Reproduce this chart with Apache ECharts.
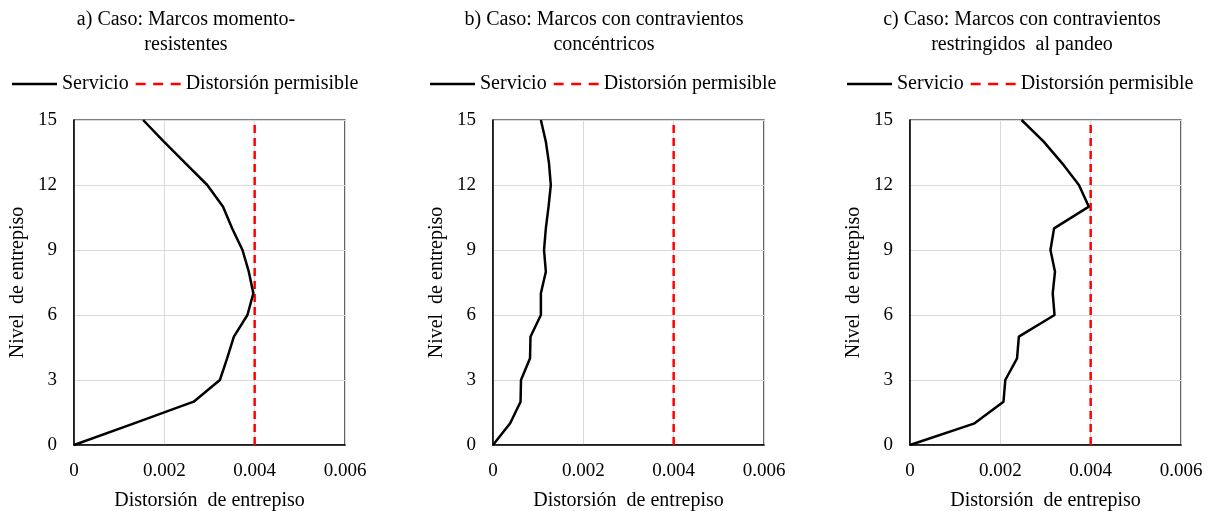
<!DOCTYPE html>
<html>
<head>
<meta charset="utf-8">
<script src="https://cdn.jsdelivr.net/npm/echarts@6/dist/echarts.min.js"></script>
<style>
  html, body { margin: 0; padding: 0; background: #fff; }
  #chart { width: 1216px; height: 511px; }
</style>
</head>
<body>
<div id="chart"></div>
<script>
// Story levels (0 = base, 15 = roof)
const niveles = [0, 1, 2, 3, 4, 5, 6, 7, 8, 9, 10, 11, 12, 13, 14, 15];

// Inter-story drift under service loads, one value per level
const servicioMomento = [0, 0.00133, 0.00265, 0.00323, 0.00339, 0.00354, 0.00384, 0.00397,
  0.00387, 0.00373, 0.00350, 0.00330, 0.00295, 0.00247, 0.00199, 0.00153];
const servicioConcentricos = [0, 0.00038, 0.00061, 0.00062, 0.00082, 0.00083, 0.00106, 0.00106,
  0.00117, 0.00113, 0.00117, 0.00123, 0.00128, 0.00124, 0.00117, 0.00106];
const servicioRestringidos = [0, 0.00143, 0.00207, 0.00211, 0.00237, 0.00241, 0.00320, 0.00316,
  0.00321, 0.00311, 0.00319, 0.00396, 0.00374, 0.00337, 0.00296, 0.00247];

// Allowable drift limit
const distorsionPermisible = 0.004;

const titulos = [
  'a) Caso: Marcos momento-\nresistentes',
  'b) Caso: Marcos con contravientos\nconcéntricos',
  'c) Caso: Marcos con contravientos\nrestringidos  al pandeo'
];
const xTicks = ['0', '0.002', '0.004', '0.006'];

const FONT = "'Liberation Serif', 'Times New Roman', serif";
const panels = [servicioMomento, servicioConcentricos, servicioRestringidos];
const gridLefts = [74, 493, 910];
const titleCenters = [186, 604, 1022];
const legendLefts = [12, 430, 847];

// Legend keys: a solid stroke and a three-dash stroke
const iconSolid = 'path://M0,0H45V2.5H0Z';
const iconDashed = 'path://M0,0H10V2.5H0Z M17.5,0H27.5V2.5H17.5Z M35,0H45V2.5H35Z';

const option = {
  backgroundColor: '#fff',
  textStyle: { fontFamily: FONT, color: '#000' },
  title: titulos.map((t, i) => ({
    text: t,
    left: titleCenters[i],
    top: 7,
    padding: 0,
    textAlign: 'center',
    textStyle: { fontFamily: FONT, fontSize: 20, fontWeight: 'normal', color: '#000', lineHeight: 25 }
  })),
  legend: legendLefts.map(l => ({
    left: l,
    top: 74,
    padding: 0,
    itemWidth: 45,
    itemHeight: 2.5,
    itemGap: 7,
    data: [
      { name: 'Servicio', icon: iconSolid },
      { name: 'Distorsión permisible', icon: iconDashed }
    ],
    textStyle: { fontFamily: FONT, fontSize: 20, color: '#000' }
  })),
  grid: gridLefts.map(l => ({
    left: l, top: 120, width: 271, height: 325,
    outerBoundsMode: 'none',
    containLabel: false,
    show: true, borderColor: '#000', borderWidth: 1.2, backgroundColor: '#fff'
  })),
  xAxis: gridLefts.map((l, i) => ({
    type: 'value', gridIndex: i, min: 0, max: 0.006, interval: 0.002,
    name: 'Distorsión  de entrepiso',
    nameLocation: 'middle', nameGap: 46,
    nameTextStyle: { fontFamily: FONT, fontSize: 20, color: '#000' },
    axisLine: { show: true, lineStyle: { color: '#000', width: 1.5 } },
    axisTick: { show: false },
    axisLabel: {
      margin: 17, fontFamily: FONT, fontSize: 19, color: '#000',
      formatter: v => xTicks[Math.round(v / 0.002)]
    },
    splitLine: { show: true, lineStyle: { color: '#d9d9d9', width: 1 } }
  })),
  yAxis: gridLefts.map((l, i) => ({
    type: 'value', gridIndex: i, min: 0, max: 15, interval: 3,
    name: 'Nivel  de entrepiso',
    nameLocation: 'middle', nameGap: 46,
    nameTextStyle: { fontFamily: FONT, fontSize: 20, color: '#000' },
    axisLine: { show: true, lineStyle: { color: '#000', width: 1.5 } },
    axisTick: { show: false },
    axisLabel: { margin: 17, fontFamily: FONT, fontSize: 19, color: '#000' },
    splitLine: { show: true, lineStyle: { color: '#d9d9d9', width: 1 } }
  })),
  series: []
};

panels.forEach((vals, i) => {
  option.series.push({
    name: 'Servicio', type: 'line', xAxisIndex: i, yAxisIndex: i,
    data: niveles.map((n, k) => [vals[k], n]),
    symbol: 'none', smooth: false, z: 3,
    lineStyle: { color: '#000', width: 2.5 },
    itemStyle: { color: '#000' }
  });
  option.series.push({
    name: 'Distorsión permisible', type: 'line', xAxisIndex: i, yAxisIndex: i,
    data: [[distorsionPermisible, niveles[0]], [distorsionPermisible, niveles[niveles.length - 1]]],
    symbol: 'none', z: 2,
    lineStyle: { color: '#ff0000', width: 2.5, type: [8, 5] },
    itemStyle: { color: '#ff0000' }
  });
});

const chart = echarts.init(document.getElementById('chart'), null, { renderer: 'canvas' });
chart.setOption(option);
</script>
</body>
</html>
